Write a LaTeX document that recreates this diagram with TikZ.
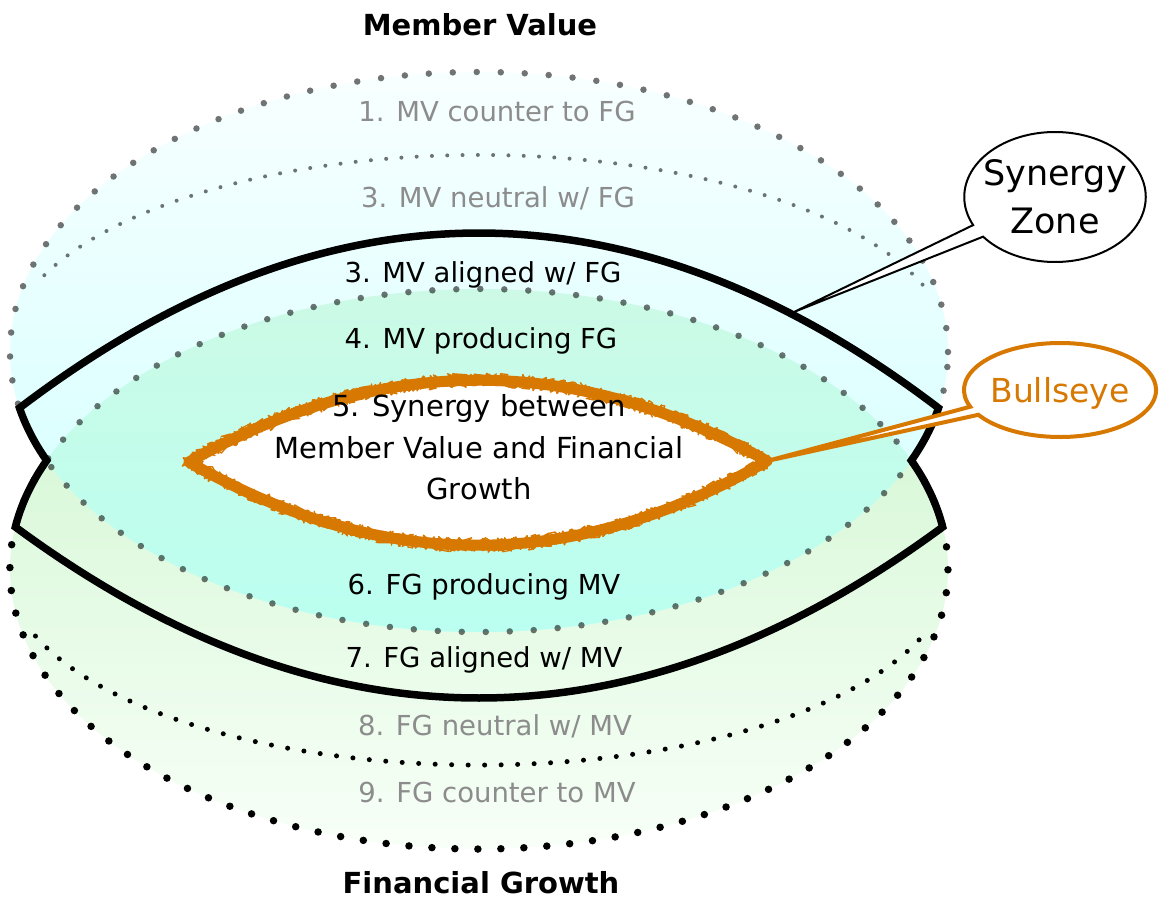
\documentclass[tikz,border=0pt]{standalone}
\usepackage{fontspec}
\setmainfont{DejaVu Sans}
\usetikzlibrary{calc,shapes.callouts,decorations.pathmorphing}
\definecolor{orng}{HTML}{D77800}
\definecolor{txtgray}{HTML}{8C8C8C}
\definecolor{mvtop}{HTML}{F8FFFF}
\definecolor{mvbot}{HTML}{CFFFFF}
\definecolor{fgtop}{HTML}{CCF5CC}
\definecolor{fgbot}{HTML}{F8FFF8}
\definecolor{ovtop}{HTML}{CCFAE6}
\definecolor{ovbot}{HTML}{BAFFF0}
\begin{document}
\begin{tikzpicture}[x=1pt,y=-1pt,
  ellrad/.style={x radius=469pt, y radius=280pt},
  graydots/.style={line width=6.5pt, line cap=round, dash pattern=on 0pt off 24pt, draw=black, draw opacity=0.55},
  blackdots/.style={line width=7.5pt, line cap=round, dash pattern=on 0pt off 23pt, draw=black},
  smallgray/.style={line width=4pt, line cap=round, dash pattern=on 0pt off 15.3pt, draw=black, draw opacity=0.55},
  smallblack/.style={line width=5pt, line cap=round, dash pattern=on 0pt off 16.5pt, draw=black},
  lensline/.style={line width=7.5pt, draw=black, line join=miter},
  crayon/.style={draw=orng, line join=round, decorate, decoration={random steps, segment length=1.4pt, amplitude=7pt}},
  lbl/.style={anchor=base, font=\fontsize{27.5}{33}\selectfont, inner sep=0pt},
  glbl/.style={lbl, text=txtgray},
  titletext/.style={anchor=base, font=\fontsize{29}{35}\selectfont\bfseries, inner sep=0pt}
]
\useasboundingbox (0,0) rectangle (1159,901);
\fill[white] (0,0) rectangle (1159,901);
\coordinate (mvc) at (479,352);
\coordinate (fgc) at (479,569);

% fills
\shade[top color=fgtop, bottom color=fgbot] (fgc) ellipse[ellrad];
\shade[top color=mvtop, bottom color=mvbot] (mvc) ellipse[ellrad];
\begin{scope}
  \clip (mvc) ellipse[ellrad];
  \clip (fgc) ellipse[ellrad];
  \shade[top color=ovtop, bottom color=ovbot] (0,290) rectangle (1159,632);
\end{scope}

% dotted boundaries
\draw[graydots] (mvc) ellipse[ellrad];
\draw[graydots] ($(fgc)+(22.8:469pt and 280pt)$) arc[start angle=22.8, end angle=157.2, ellrad];
\draw[blackdots] ($(fgc)+(157.2:469pt and 280pt)$) arc[start angle=157.2, end angle=382.8, ellrad];
\draw[smallgray] ($(mvc)+(20:472pt and 197pt)$) arc[start angle=20, end angle=160, x radius=472pt, y radius=197pt];
\draw[smallblack] ($(fgc)+(200:472pt and 196pt)$) arc[start angle=200, end angle=340, x radius=472pt, y radius=196pt];

% synergy zone lens
\draw[lensline] ($(mvc)+(191.54:469pt and 280pt)$) coordinate (zl1)
  arc[start angle=191.54, end angle=202.8, ellrad] coordinate (notchL)
  arc[start angle=157.2, end angle=171.37, ellrad] coordinate (zl2)
  .. controls (324.4,755) and (633.6,755) .. ($(fgc)+(8.63:469pt and 280pt)$) coordinate (zr2)
  arc[start angle=8.63, end angle=22.8, ellrad] coordinate (notchR)
  arc[start angle=-22.8, end angle=-11.54, ellrad] coordinate (zr1)
  .. controls (632.2,174.7) and (325.8,174.7) .. (zl1) -- cycle;
\coordinate (sztip) at (794,312);

% bullseye lens
\coordinate (orL) at (189,462);
\coordinate (orR) at (767,461);
\def\bullpath{(orL) .. controls (381.7,353.3) and (574.3,353) .. (orR) .. controls (574.3,573) and (381.7,573.3) .. (orL) -- cycle}
\fill[white] \bullpath;
\draw[draw=orng, line width=11pt, line join=round] \bullpath;
\draw[crayon, line width=1.8pt] \bullpath;
\draw[crayon, line width=1.3pt, decoration={random steps, segment length=1.1pt, amplitude=7.5pt}] \bullpath;

% texts
\node[titletext] (mvt) at (480,35.5) {Member Value};
\node[titletext] (fgt) at (481,893.5) {Financial Growth};
\node[glbl] (l1) at (497,122) {1. MV counter to FG};
\node[glbl] (l2) at (498,207.5) {3. MV neutral w/ FG};
\node[lbl] (l3) at (483,282.5) {3. MV aligned w/ FG};
\node[lbl] (l4) at (481,348.5) {4. MV producing FG};
\node[font=\fontsize{29}{41.5}\selectfont, align=center, inner sep=0pt] (l5) at (479,447.5) {5. Synergy between\\Member Value and Financial\\Growth};
\node[lbl] (l6) at (484,594) {6. FG producing MV};
\node[lbl] (l7) at (484,667) {7. FG aligned w/ MV};
\node[glbl] (l8) at (495,735.5) {8. FG neutral w/ MV};
\node[glbl] (l9) at (497,802.5) {9. FG counter to MV};

% callouts
\node[ellipse callout, draw=black, line width=2pt, fill=white, callout absolute pointer={(sztip)}, callout pointer arc=12,
      align=center, font=\fontsize{35}{48}\selectfont, inner xsep=-7.5pt, inner ysep=0pt, minimum height=130pt, text depth=0pt]
      (sz) at (1055,197) {Synergy\\Zone};
\node[ellipse callout, draw=orng, line width=4pt, fill=white, text=orng, callout absolute pointer={(orR)}, callout pointer arc=11,
      font=\fontsize{33}{40}\selectfont, inner xsep=-1.7pt, inner ysep=0pt, minimum height=94pt, text depth=0pt]
      (be) at (1060,390) {Bullseye};
\end{tikzpicture}
\end{document}
